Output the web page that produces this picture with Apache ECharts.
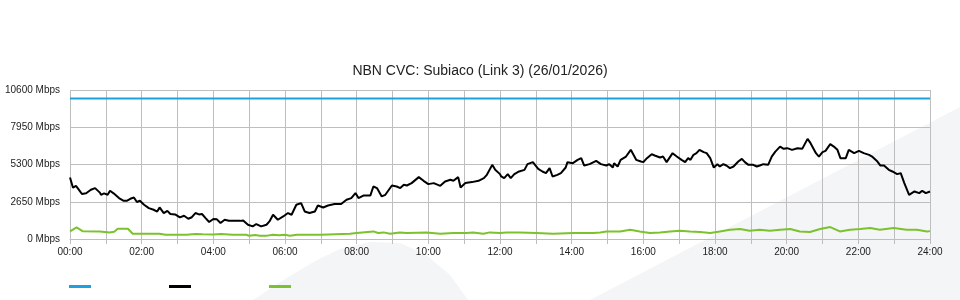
<!DOCTYPE html>
<html>
<head>
<meta charset="utf-8">
<script src="https://cdn.jsdelivr.net/npm/echarts@6/dist/echarts.min.js"></script>
<style>
html,body{margin:0;padding:0;background:#fff;}
#c{width:960px;height:300px;}
</style>
</head>
<body>
<div id="c"></div>
<script>
// ---- Data (time in minutes since 00:00, values in Mbps) ----
const chartTitle = 'NBN CVC: Subiaco (Link 3) (26/01/2026)';
const seriesNames = ['Capacity', 'Download', 'Upload'];
const xTickLabels = ['00:00','02:00','04:00','06:00','08:00','10:00','12:00','14:00','16:00','18:00','20:00','22:00','24:00'];
const yTickValues = [0, 2650, 5300, 7950, 10600];

const capTimes = [0, 1440];
const capValues = [10000, 10000];

const dlTimes = [0,5,10,15,20,27,35,42,50,52,57,63,67,73,82,90,95,101,107,112,117,124,132,140,146,150,157,163,168,176,184,191,198,204,210,216,221,227,233,240,246,252,259,266,275,285,290,298,306,312,320,329,334,340,348,357,365,371,379,387,393,401,410,415,424,432,443,454,463,471,478,483,492,503,508,514,522,528,539,547,553,559,564,572,584,592,600,609,620,628,637,642,650,654,662,673,684,693,698,707,712,720,722,727,733,738,744,752,761,766,775,784,791,797,803,808,816,822,830,833,842,850,856,861,870,881,889,898,903,909,911,917,922,931,939,948,956,960,966,974,979,988,993,999,1009,1016,1024,1030,1035,1039,1044,1049,1054,1061,1066,1072,1078,1084,1088,1094,1099,1105,1111,1119,1125,1130,1136,1144,1150,1155,1161,1169,1175,1181,1189,1195,1201,1209,1218,1226,1235,1240,1249,1254,1260,1265,1273,1279,1285,1290,1299,1304,1313,1321,1329,1338,1343,1352,1357,1363,1371,1377,1385,1391,1397,1405,1414,1422,1427,1433,1440];
const dlValues = [4370,3650,3780,3500,3200,3250,3500,3620,3300,3145,3250,3150,3430,3250,2910,2720,2720,2860,2950,2630,2720,2435,2200,2080,1950,2244,1846,2000,1775,1750,1534,1650,1441,1550,1846,1750,1780,1490,1207,1420,1400,1136,1370,1300,1300,1290,1320,1015,895,1065,895,1015,1250,1725,1370,1604,1846,1725,2435,2556,1960,1846,1960,2386,2244,2386,2485,2485,2790,2911,3266,2911,3100,3100,3735,3620,3027,3145,3806,3735,3621,3855,3806,3976,4402,4139,3905,3976,3784,4090,4210,4139,4402,3664,3976,4047,4139,4331,4565,5275,4920,4615,4447,4331,4615,4331,4615,4804,4920,5325,5467,4993,4804,4686,5041,4447,4565,4686,5085,5467,5396,5632,5751,5227,5325,5562,5325,5227,5325,5085,5396,5156,5632,5866,6343,5632,5510,5467,5751,6035,5940,5797,5866,5467,6106,5866,5632,5467,5751,5632,5986,6106,6343,6177,6106,5751,5085,5325,5156,5325,5227,5041,5156,5510,5703,5467,5275,5275,5156,5227,5325,5275,5866,6219,6574,6413,6461,6343,6461,6413,7122,6816,6106,5866,6177,6271,6745,6574,6343,5751,5751,6343,6106,6271,6106,5986,5866,5510,5227,5227,4920,4804,4615,4686,3976,3145,3381,3266,3429,3266,3381];

const ulTimes = [0,11,21,50,66,74,80,97,105,116,150,160,195,210,222,240,253,272,295,300,310,318,330,340,350,360,368,380,420,469,480,508,516,525,536,552,564,597,620,642,664,675,692,703,720,731,753,781,809,843,876,888,898,921,938,954,971,988,1005,1021,1038,1055,1072,1088,1105,1122,1138,1155,1172,1189,1206,1222,1239,1256,1273,1289,1306,1323,1340,1356,1379,1401,1418,1435,1440];
const ulValues = [540,824,560,540,470,520,731,731,376,376,376,305,305,360,330,320,350,300,300,234,290,234,240,300,270,300,234,300,305,376,424,540,424,470,376,470,424,470,376,424,424,470,376,470,424,470,470,424,376,424,424,470,540,540,660,540,424,470,540,590,540,500,424,540,660,710,590,660,590,660,710,540,500,710,850,540,660,710,780,660,780,660,660,540,560];

// ---- Chart ----
const pair = (ts, vs) => ts.map((t, i) => [t, vs[i]]);
const gridColor = '#bebebe';
const font = 'Liberation Sans, Arial, sans-serif';

const chart = echarts.init(document.getElementById('c'), null, {renderer: 'canvas'});
chart.setOption({
  animation: false,
  backgroundColor: '#ffffff',
  graphic: [
    {type: 'polygon', z: -10, silent: true,
     shape: {points: [[590, 300], [960, 107], [960, 300]]},
     style: {fill: '#f4f5f7'}},
    {type: 'polygon', z: -10, silent: true,
     shape: {points: [[253, 300], [285, 279], [317, 260], [340, 249], [370, 242], [400, 243], [425, 254], [450, 275], [468, 300]]},
     style: {fill: '#f4f5f7'}}
  ],
  title: {
    text: chartTitle,
    left: 'center',
    top: 59,
    textStyle: {fontFamily: font, fontSize: 14, fontWeight: 'normal', color: '#222'}
  },
  legend: {
    left: 64,
    top: 280,
    icon: 'rect',
    itemWidth: 22,
    itemHeight: 3,
    itemGap: 78,
    formatter: () => '',
    textStyle: {fontSize: 10},
    data: seriesNames
  },
  grid: {left: 70, right: 30, top: 90, height: 149, containLabel: false},
  xAxis: {
    type: 'value', min: 0, max: 1440, interval: 60,
    axisLine: {show: true, lineStyle: {color: gridColor}},
    axisTick: {show: true, length: 5, lineStyle: {color: gridColor}},
    splitLine: {show: true, lineStyle: {color: gridColor, width: 1}},
    axisLabel: {
      fontFamily: font, fontSize: 10, color: '#222', margin: 8,
      formatter: v => (v % 120 === 0 ? xTickLabels[v / 120] : '')
    }
  },
  yAxis: {
    type: 'value', min: yTickValues[0], max: yTickValues[yTickValues.length - 1], interval: 2650,
    axisLine: {show: false},
    axisTick: {show: false},
    splitLine: {show: true, lineStyle: {color: gridColor, width: 1}},
    axisLabel: {
      fontFamily: font, fontSize: 10, color: '#222', margin: 10,
      formatter: v => v + ' Mbps'
    }
  },
  series: [
    {name: seriesNames[0], type: 'line', data: pair(capTimes, capValues), symbol: 'none',
     lineStyle: {color: '#1ea1df', width: 2}, itemStyle: {color: '#1ea1df'}},
    {name: seriesNames[1], type: 'line', data: pair(dlTimes, dlValues), symbol: 'none',
     lineStyle: {color: '#000000', width: 2}, itemStyle: {color: '#000000'}},
    {name: seriesNames[2], type: 'line', data: pair(ulTimes, ulValues), symbol: 'none',
     lineStyle: {color: '#7cc12e', width: 2}, itemStyle: {color: '#7cc12e'}}
  ]
});
</script>
</body>
</html>
